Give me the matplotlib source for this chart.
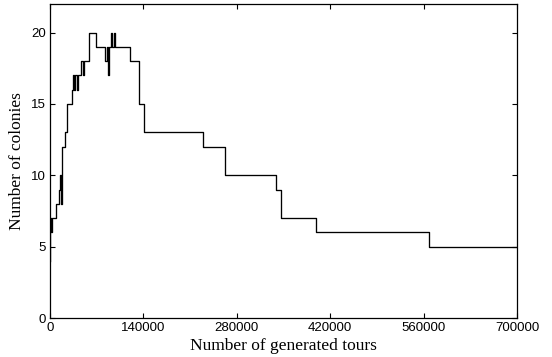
import matplotlib
matplotlib.use("Agg")
import matplotlib.pyplot as plt

# number of generated tours at which the colony count changes (step-post)
tours = [0, 400, 1800, 3400, 5400, 8400, 13500, 14500, 16000, 17500,
         18400, 22400, 25400, 32400, 34000, 36000, 38000, 40000, 42000,
         47000, 49000, 50400, 58400, 69400, 83000, 84800, 86400, 88000,
         90400, 92000, 93600, 95400, 97400, 100400, 120000, 133300, 140200,
         228700, 263000, 338000, 345700, 399000, 568600, 700000]
colonies = [4, 7, 6, 7, 7, 8, 9, 10, 8, 9,
            12, 13, 15, 16, 17, 16, 17, 16, 17,
            18, 17, 18, 20, 19, 18, 19, 17, 19,
            19, 20, 19, 20, 19, 19, 18, 15, 13,
            12, 10, 9, 7, 6, 5, 5]

xticks = [0, 140000, 280000, 420000, 560000, 700000]
yticks = [0, 5, 10, 15, 20]

fig = plt.figure(figsize=(5.52, 3.57), dpi=100)
ax = fig.add_axes([0.0906, 0.1092, 0.846, 0.8796])
ax.plot(tours, colonies, color="black", lw=0.95, drawstyle="steps-post")
ax.set_xlim(0, 700000)
ax.set_ylim(0, 22)
ax.set_xticks(xticks)
ax.set_xticklabels([str(t) for t in xticks])
ax.set_yticks(yticks)
ax.tick_params(direction="in", top=True, right=True, length=3.5, width=0.8,
               labelsize=9.5, pad=3)
for lab in ax.get_xticklabels() + ax.get_yticklabels():
    lab.set_family("Liberation Sans")
for s in ax.spines.values():
    s.set_linewidth(0.9)
ax.set_xlabel("Number of generated tours", family="Liberation Serif",
              fontsize=12.5, labelpad=2.5)
ax.set_ylabel("Number of colonies", family="Liberation Serif",
              fontsize=12.5, labelpad=4)
fig.savefig("out.png", dpi=100)
